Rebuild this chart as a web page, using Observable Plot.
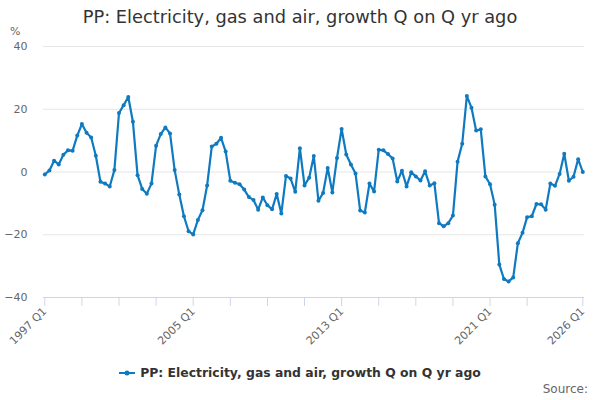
<!DOCTYPE html>
<html><head><meta charset="utf-8">
<script src="https://cdn.jsdelivr.net/npm/d3@7"></script>
<script src="https://cdn.jsdelivr.net/npm/@observablehq/plot@0.6"></script>
<style>
body{margin:0;background:#fff;font-family:"DejaVu Sans",sans-serif;}
#wrap{position:relative;width:600px;height:400px;overflow:hidden;background:#fff;}
#title{position:absolute;top:6px;left:0;width:600px;text-align:center;font-size:17.8px;color:#333;white-space:nowrap;}
#unit{position:absolute;top:25px;left:10px;font-size:11px;color:#666;}
#chart{position:absolute;top:36px;left:0;}
#legend{position:absolute;top:365px;left:0;width:600px;text-align:center;font-size:12.4px;font-weight:bold;color:#333;white-space:nowrap;}
#legend svg{vertical-align:middle;margin-right:5px;position:relative;top:-1px;}
#source{position:absolute;top:382px;right:12px;font-size:12px;color:#666;}
</style>
</head><body>
<div id="wrap">
  <div id="title"></div>
  <div id="unit">%</div>
  <div id="chart"></div>
  <div id="legend"></div>
  <div id="source">Source:</div>
</div>
<script>
const seriesName = "PP: Electricity, gas and air, growth Q on Q yr ago";
const startYear = 1997;
const values = [
  -0.8, 0.5, 3.6, 2.4, 5.5, 6.9, 6.8, 11.6, 15.3, 12.5,
  11.0, 5.2, -3.1, -3.7, -4.6, 0.6, 18.8, 21.3, 23.9, 16.0,
  -1.0, -5.4, -6.9, -3.7, 8.4, 12.1, 14.2, 12.3, 0.6, -7.2,
  -14.1, -18.9, -19.9, -15.3, -12.2, -4.3, 8.1, 9.0, 10.9, 6.5,
  -2.8, -3.4, -3.9, -5.6, -8.0, -8.9, -12.0, -8.1, -10.6, -11.9,
  -7.0, -13.2, -1.3, -2.1, -6.3, 7.6, -4.3, -1.8, 5.1, -9.2,
  -6.7, 1.3, -6.5, 4.5, 13.7, 5.6, 2.4, -0.5, -12.3, -12.9,
  -3.7, -6.2, 7.1, 6.9, 5.7, 4.3, -3.0, 0.4, -4.6, -0.1,
  -1.4, -2.7, 0.2, -4.3, -3.6, -16.3, -17.3, -16.3, -13.9, 3.3,
  9.0, 24.2, 20.5, 13.2, 13.6, -1.4, -3.9, -10.4, -29.5, -34.1,
  -34.9, -33.6, -22.7, -19.4, -14.4, -14.1, -10.2, -10.3, -12.0, -3.7,
  -4.4, -0.6, 5.8, -2.8, -1.5, 4.1, 0.0
];
const tickYears = [1997, 1999, 2001, 2003, 2005, 2007, 2009, 2011, 2013, 2015, 2017, 2019, 2021, 2023, 2026];
const labelYears = [1997, 2005, 2013, 2021, 2026];
const yTicks = [-40, -20, 0, 20, 40];
const gridValues = [-20, 0, 20, 40];
const lineColor = "#0f7ac0";

const data = values.map((v, i) => ({
  t: startYear + i / 4,
  label: `${startYear + Math.floor(i / 4)} Q${(i % 4) + 1}`,
  value: v
}));

document.getElementById("title").textContent = seriesName;

const chart = Plot.plot({
  width: 600,
  height: 311,
  marginTop: 10,
  marginBottom: 50,
  marginLeft: 43,
  marginRight: 16,
  insetLeft: 1.3,
  insetRight: 1.7,
  x: {type: "linear", domain: [1997, 2026]},
  y: {domain: [-40, 40]},
  style: {fontFamily: "DejaVu Sans, sans-serif", fontSize: "11px", color: "#666", background: "#fff"},
  marks: [
    Plot.gridY(gridValues, {stroke: "#e6e6e6", strokeOpacity: 1}),
    Plot.ruleY([-40], {stroke: "#ccd6eb"}),
    Plot.axisY(yTicks, {tickSize: 0, tickPadding: 16, label: null, fill: "#666"}),
    Plot.axisX(tickYears, {
      tickSize: 9, tickPadding: 3, tickRotate: -45, label: null,
      stroke: "#ccd6eb", fill: "#666",
      tickFormat: d => labelYears.includes(d) ? `${d} Q1` : ""
    }),
    Plot.line(data, {x: "t", y: "value", stroke: lineColor, strokeWidth: 2.2}),
    Plot.dot(data, {x: "t", y: "value", fill: lineColor, r: 2, title: d => `${d.label}: ${d.value}`})
  ]
});
document.getElementById("chart").appendChild(chart);

const legend = document.getElementById("legend");
legend.innerHTML = `<svg width="16" height="10"><line x1="0" y1="5" x2="16" y2="5" stroke="${lineColor}" stroke-width="2"/><circle cx="8" cy="5" r="2.5" fill="${lineColor}"/></svg>`;
legend.appendChild(document.createTextNode(seriesName));
</script>
</body></html>
